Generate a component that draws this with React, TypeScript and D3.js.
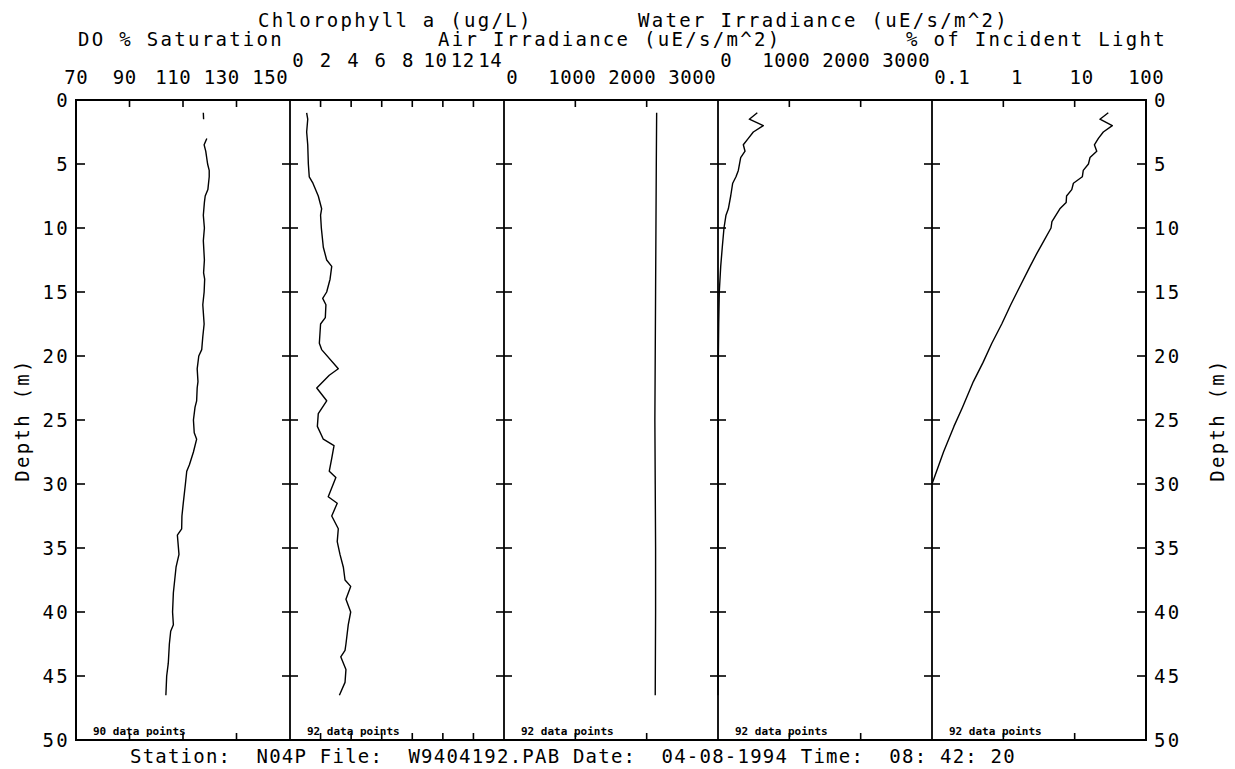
import React, { useEffect, useRef } from "react";
import * as d3 from "d3";

// depth axis
const depthTicks = [0, 5, 10, 15, 20, 25, 30, 35, 40, 45, 50];

// tick labels for each panel
const doTicks = [70, 90, 110, 130, 150];
const chlTicks = [0, 2, 4, 6, 8, 10, 12, 14];
const airTicks = [0, 1000, 2000, 3000];
const waterTicks = [0, 1000, 2000, 3000];
const lightTicks = [0.1, 1, 10, 100];

const titles = [
  "DO % Saturation",
  "Chlorophyll a (ug/L)",
  "Air Irradiance (uE/s/m^2)",
  "Water Irradiance (uE/s/m^2)",
  "% of Incident Light",
];
const pointCounts = [90, 92, 92, 92, 92];
const caption = "Station:  N04P File:  W9404192.PAB Date:  04-08-1994 Time:  08: 42: 20";

// DO % saturation profile (null = gap in the record)
const doDepth = [1.0, 1.5, 2.0, 3.0, 3.5, 4.0, 5.0, 5.5, 6.0, 7.0, 7.5, 8.0, 9.0, 10.0, 11.0, 12.5, 13.5, 14.0, 15.0, 16.0, 17.5, 18.5, 19.5, 20.0, 21.0, 22.0, 22.5, 23.5, 24.0, 25.0, 26.0, 26.5, 27.5, 28.5, 29.0, 30.0, 31.5, 32.5, 33.5, 34.0, 35.5, 36.5, 37.5, 38.5, 40.0, 41.0, 41.5, 42.5, 44.0, 45.0, 46.5];
const doValue = [117.6, 117.7, null, 118.9, 117.9, 118.5, 119.2, 119.8, 119.8, 119.3, 118.3, 118.0, 117.6, 118.0, 117.6, 118.0, 117.7, 118.1, 117.9, 117.4, 117.9, 117.4, 117.0, 115.9, 115.3, 115.6, 115.3, 115.1, 114.5, 113.9, 114.2, 115.1, 113.9, 112.4, 111.4, 110.9, 110.1, 109.6, 109.5, 107.9, 108.5, 107.4, 106.9, 106.4, 106.1, 106.4, 105.4, 104.9, 104.5, 103.9, 103.6];

// chlorophyll a
const chlDepth = [1.0, 1.5, 2.5, 3.5, 5.0, 6.0, 6.5, 7.5, 8.5, 9.0, 10.0, 11.5, 12.5, 13.0, 14.0, 15.0, 15.5, 16.0, 17.0, 17.5, 19.0, 19.5, 21.0, 21.5, 22.5, 23.5, 24.5, 25.5, 26.5, 27.0, 28.0, 29.0, 29.5, 31.0, 31.5, 32.5, 33.5, 34.5, 35.5, 36.5, 37.5, 38.0, 39.0, 40.0, 41.0, 42.5, 43.0, 43.5, 44.5, 45.5, 46.5];
const chlValue = [1.09, 1.16, 1.09, 1.16, 1.2, 1.26, 1.5, 1.85, 2.07, 2.0, 2.05, 2.18, 2.4, 2.73, 2.62, 2.4, 2.14, 2.35, 2.31, 2.0, 1.92, 2.07, 3.16, 2.57, 1.75, 2.4, 1.85, 1.79, 2.18, 2.88, 2.73, 2.57, 3.0, 2.5, 3.09, 2.73, 3.16, 3.09, 3.27, 3.49, 3.6, 3.97, 3.66, 3.97, 3.81, 3.66, 3.6, 3.32, 3.66, 3.6, 3.23];

// air irradiance
const airDepth = [1.0, 5.0, 10.0, 15.0, 20.0, 25.0, 30.0, 35.0, 40.0, 46.5];
const airValue = [2140, 2135, 2130, 2125, 2120, 2115, 2120, 2125, 2125, 2120];

// water irradiance
const waterDepth = [1.0, 1.5, 2.0, 2.5, 3.0, 3.5, 4.0, 4.5, 5.5, 6.0, 6.5, 7.5, 8.5, 9.0, 10.0, 11.5, 13.0, 15.0, 17.5, 20.0, 25.0, 30.0, 33.0, 40.0, 46.5];
const waterValue = [551, 439, 635, 495, 425, 355, 379, 318, 285, 252, 206, 178, 145, 112, 84, 60, 38, 18, 10, 5, 3, 2, 1, 0, 0];

// % of incident light
const lightDepth = [1.0, 1.5, 2.0, 2.5, 3.0, 3.5, 4.0, 4.5, 5.0, 5.5, 6.0, 6.5, 7.0, 7.5, 8.0, 8.5, 9.5, 10.0, 11.0, 12.0, 13.0, 15.0, 16.0, 17.5, 19.0, 20.5, 22.0, 24.0, 25.5, 27.5, 30.0];
const lightValue = [29.6, 22.6, 33.7, 25.2, 21.5, 18.9, 20.4, 16.4, 15.6, 13.2, 12.8, 9.6, 9.1, 7.7, 7.6, 6.2, 4.8, 4.66, 3.7, 2.94, 2.37, 1.56, 1.27, 0.95, 0.69, 0.52, 0.38, 0.268, 0.203, 0.145, 0.1];

const FONT = "'DejaVu Sans Mono', monospace";

const App = () => {
  const svgRef = useRef<SVGSVGElement>(null);

  useEffect(() => {
    const svg = d3.select(svgRef.current);
    svg.selectAll("*").remove();

    const left = 76, top = 100, bottom = 740, pw = 214;
    const y = d3.scaleLinear().domain([0, 50]).range([top, bottom]);
    const px = (i: number) => left + i * pw;

    const panels = [
      { x: d3.scaleLinear().domain([70, 150]).range([px(0), px(1)]), ticks: doTicks, depth: doDepth, value: doValue, upper: false, titleX: 78 },
      { x: d3.scaleLinear().domain([0, 14]).range([px(1), px(2)]), ticks: chlTicks, depth: chlDepth, value: chlValue, upper: true, titleX: 258 },
      { x: d3.scaleLinear().domain([0, 3000]).range([px(2), px(3)]), ticks: airTicks, depth: airDepth, value: airValue, upper: false, titleX: 438 },
      { x: d3.scaleLinear().domain([0, 3000]).range([px(3), px(4)]), ticks: waterTicks, depth: waterDepth, value: waterValue, upper: true, titleX: 638 },
      { x: d3.scaleLog().domain([0.1, 100]).range([px(4), px(5)]), ticks: lightTicks, depth: lightDepth, value: lightValue, upper: false, titleX: 906 },
    ];
    const right = px(5);

    const txt = (g: any, ls = 2.3) => g
      .attr("font-family", FONT)
      .attr("font-size", 19)
      .attr("letter-spacing", `${ls}px`)
      .attr("fill", "#000");

    // frame
    svg.append("rect")
      .attr("x", left).attr("y", top)
      .attr("width", right - left).attr("height", bottom - top)
      .attr("fill", "none").attr("stroke", "#000").attr("stroke-width", 2);

    // panel dividers
    svg.selectAll(null)
      .data(d3.range(1, 5))
      .join("line")
      .attr("x1", d => px(d)).attr("x2", d => px(d))
      .attr("y1", top).attr("y2", bottom)
      .attr("stroke", "#000").attr("stroke-width", 1.8);

    // depth ticks on frame and dividers
    const inner = depthTicks.filter(d => d > 0 && d < 50);
    const tickG = svg.append("g").attr("stroke", "#000").attr("stroke-width", 1.6);
    d3.range(0, 6).forEach(i => {
      const x0 = px(i);
      const a = i === 0 ? x0 : i === 5 ? x0 - 9 : x0 - 8;
      const b = i === 0 ? x0 + 9 : i === 5 ? x0 : x0 + 8;
      tickG.selectAll(null).data(inner).join("line")
        .attr("x1", a).attr("x2", b)
        .attr("y1", d => y(d)).attr("y2", d => y(d));
    });

    panels.forEach((p, i) => {
      const inside = p.ticks.slice(1, -1);
      // top and bottom ticks
      tickG.selectAll(null).data(inside).join("line")
        .attr("x1", d => p.x(d)).attr("x2", d => p.x(d))
        .attr("y1", top).attr("y2", top + 7);
      tickG.selectAll(null).data(inside).join("line")
        .attr("x1", d => p.x(d)).attr("x2", d => p.x(d))
        .attr("y1", bottom).attr("y2", bottom - 7);

      // tick labels: spread the label row so the end labels stay inside the panel,
      // keeping the scale's proportions between them
      const [r0, r1] = p.x.range();
      const labels = svg.append("g").call(txt, 0.6)
        .attr("text-anchor", "middle")
        .selectAll("text").data(p.ticks).join("text")
        .attr("y", p.upper ? 67 : 84)
        .text(d => String(d));
      const widths = labels.nodes().map(n => (n as SVGTextElement).getComputedTextLength());
      const c0 = i === 0 ? r0 : r0 + 2 + widths[0] / 2;
      const c1 = i === 4 ? r1 : r1 - 2 - widths[widths.length - 1] / 2;
      labels.attr("x", d => c0 + ((p.x(d) - r0) / (r1 - r0)) * (c1 - c0) + 0.3);

      // title
      svg.append("text").call(txt)
        .attr("x", p.titleX).attr("y", p.upper ? 27 : 46)
        .style("white-space", "pre")
        .text(titles[i]);

      // profile line
      const pts = p.depth.map((d, k) => [d, p.value[k]] as [number, number | null]);
      const line = d3.line<[number, number | null]>()
        .defined(d => d[1] != null)
        .x(d => p.x(d[1] as number))
        .y(d => y(d[0]));
      svg.append("path")
        .attr("d", line(pts))
        .attr("fill", "none")
        .attr("stroke", "#000")
        .attr("stroke-width", 1.4)
        .attr("stroke-linejoin", "round");

      // data point count
      svg.append("text")
        .attr("x", px(i) + 17).attr("y", 735)
        .attr("font-family", FONT).attr("font-size", 11).attr("font-weight", "bold")
        .attr("fill", "#000")
        .text(`${pointCounts[i]} data points`);
    });

    // depth labels
    svg.append("g").call(txt)
      .attr("text-anchor", "end")
      .selectAll("text").data(depthTicks).join("text")
      .attr("x", left - 6).attr("y", d => y(d) + 7)
      .text(d => String(d));
    svg.append("g").call(txt)
      .attr("text-anchor", "start")
      .selectAll("text").data(depthTicks).join("text")
      .attr("x", right + 8).attr("y", d => y(d) + 7)
      .text(d => String(d));

    // depth axis titles
    const mid = (top + bottom) / 2;
    [29, 1224].forEach(xx => {
      svg.append("text").call(txt)
        .attr("text-anchor", "middle")
        .attr("transform", `translate(${xx},${mid}) rotate(-90)`)
        .text("Depth (m)");
    });

    // station caption
    svg.append("text").call(txt)
      .attr("x", 130).attr("y", 763)
      .attr("textLength", 887).attr("lengthAdjust", "spacing")
      .style("white-space", "pre")
      .text(caption);
  }, []);

  return (
    <svg
      ref={svgRef}
      width={1235}
      height={769}
      style={{ position: "absolute", left: 0, top: 0, background: "#fff" }}
    ></svg>
  );
};

export default App;
